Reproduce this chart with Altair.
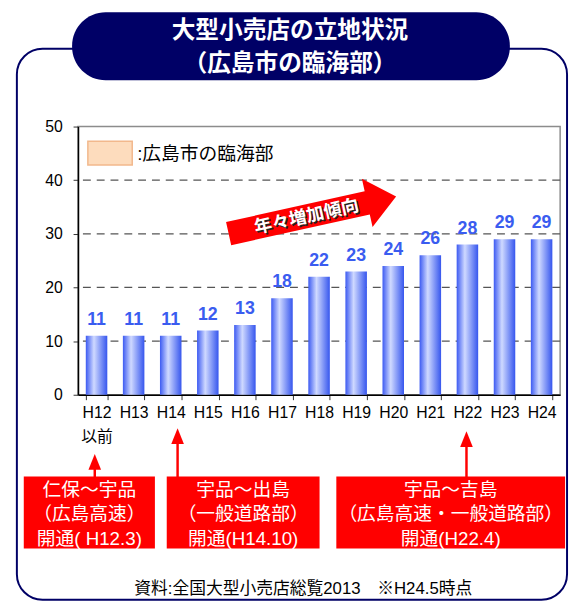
import altair as alt
import pandas as pd

# ---------------- data ----------------
years = ["H12", "H13", "H14", "H15", "H16", "H17", "H18", "H19", "H20", "H21", "H22", "H23", "H24"]
counts = [11, 11, 11, 12, 13, 18, 22, 23, 24, 26, 28, 29, 29]
y_ticks = [0, 10, 20, 30, 40, 50]
grid_vals = [10, 20, 30, 40]
title_lines = ["大型小売店の立地状況", "（広島市の臨海部）"]
legend_label = ":広島市の臨海部"
trend_label = "年々増加傾向"
note_lines = [
    ["仁保～宇品", "（広島高速）", "開通( H12.3)"],
    ["宇品～出島", "（一般道路部）", "開通(H14.10)"],
    ["宇品～吉島", "（広島高速・一般道路部）", "開通(H22.4)"],
]
source_text = "資料:全国大型小売店総覧2013　※H24.5時点"

# ---------------- styles ----------------
NAVY = "#000066"
RED = "#ff0000"
BLUE_TXT = "#3a5cf0"
FONT = "Liberation Sans, Noto Sans CJK JP"
CJK = "Noto Sans CJK JP"
W, H = 489, 272

df = pd.DataFrame({"year": years, "count": counts})
one = pd.DataFrame({"k": [0]})

xscale = alt.Scale(domain=years, paddingInner=0.42, paddingOuter=0.21)
yscale = alt.Scale(domain=[0, 50])


def box(x, x2, y, y2, **kw):
    return alt.Chart(one).mark_rect(**kw).encode(
        x=alt.value(x), x2=alt.value(x2), y=alt.value(y), y2=alt.value(y2)
    )


def txt(s, x, y, **kw):
    return alt.Chart(one).mark_text(**kw).encode(
        x=alt.value(x), y=alt.value(y), text=alt.value(s)
    )


layers = []

# outer frame
layers.append(box(-62, 496, -79, 480, fill="white", fillOpacity=0, stroke=NAVY,
                  strokeWidth=2, cornerRadius=26))
# title pill
layers.append(box(-6, 438, -116, -47, fill=NAVY, cornerRadius=34))
layers.append(txt(title_lines[0], 215, -97, font=CJK, fontSize=24, fontWeight="bold",
                  color="white", align="center", baseline="middle"))
layers.append(txt(title_lines[1], 215, -63, font=CJK, fontSize=24, fontWeight="bold",
                  color="white", align="center", baseline="middle"))

# legend
layers.append(box(10, 55, 15, 39, fill="#fddcbd", stroke="#f2b88c", strokeWidth=1.5))
layers.append(txt(legend_label, 60, 28, font=FONT, fontSize=19, color="black",
                  align="left", baseline="middle"))

# grid lines
grid = alt.Chart(pd.DataFrame({"v": grid_vals})).mark_rule(
    strokeDash=[8, 6], color="#555555", strokeWidth=1.3
).encode(y=alt.Y("v:Q", scale=yscale))
layers.append(grid)

# bars
grad = alt.LinearGradient(
    gradient="linear",
    stops=[
        alt.GradientStop(color="#3c5af2", offset=0),
        alt.GradientStop(color="#cfd9ff", offset=0.38),
        alt.GradientStop(color="#3656ee", offset=1),
    ],
    x1=0, x2=1, y1=0, y2=0,
)
bars = alt.Chart(df).mark_bar(color=grad).encode(
    x=alt.X(
        "year:N", sort=years, scale=xscale, title=None,
        axis=alt.Axis(
            labelAngle=0, tickBand="extent", grid=False, domainColor="black",
            domainWidth=1.5, tickColor="#333333", tickSize=5, labelPadding=5,
            labelFontSize=16, labelFont=FONT, labelColor="black",
            labelLineHeight=24,
            labelExpr="datum.label == 'H12' ? ['H12', '以前'] : datum.label",
        ),
    ),
    y=alt.Y(
        "count:Q", scale=yscale, title=None,
        axis=alt.Axis(
            values=y_ticks, grid=False, domainColor="black", domainWidth=1.5,
            tickColor="#333333", tickSize=5, labelPadding=11, labelFontSize=16,
            labelFont=FONT, labelColor="black",
        ),
    ),
)
layers.append(bars)

vals = alt.Chart(df).mark_text(
    font=FONT, fontSize=18, fontWeight="bold", color=BLUE_TXT, dy=-11,
    baseline="alphabetic", align="center",
).encode(x=alt.X("year:N", sort=years, scale=xscale),
         y=alt.Y("count:Q", scale=yscale), text=alt.Text("count:Q"))
layers.append(vals)

# trend arrow
arrow_path = "M -1 -0.138 L 0.655 -0.138 L 0.655 -0.287 L 1 0 L 0.655 0.287 L 0.655 0.138 L -1 0.138 Z"
layers.append(alt.Chart(one).mark_point(
    shape=arrow_path, filled=True, color=RED, opacity=1, size=30276, angle=347.5,
    strokeWidth=0,
).encode(x=alt.value(237.7), y=alt.value(89.75)))
layers.append(txt(trend_label, 233.5, 93.5, font=CJK, fontSize=18, fontWeight="bold",
                  color="#222222", angle=347.5, align="center", baseline="middle"))
layers.append(txt(trend_label, 232, 92, font=CJK, fontSize=18, fontWeight="bold",
                  color="white", angle=347.5, align="center", baseline="middle"))

# annotation boxes with arrows
box_x = [(-55, 78), (90, 245), (262, 494)]
arrow_x = [17, 101, 394]
arrow_tip = [332, 306, 309]
for (bx0, bx1), ax, tip, lines in zip(box_x, arrow_x, arrow_tip, note_lines):
    layers.append(alt.Chart(one).mark_rule(color=RED, strokeWidth=2.5).encode(
        x=alt.value(ax), y=alt.value(tip + 12), y2=alt.value(356)))
    layers.append(alt.Chart(one).mark_point(
        shape="M 0 -1 L 0.8 1 L -0.8 1 Z", filled=True, color=RED, opacity=1,
        size=256, strokeWidth=0,
    ).encode(x=alt.value(ax), y=alt.value(tip + 8)))
    layers.append(box(bx0, bx1, 355, 428, fill=RED))
    cx = (bx0 + bx1) / 2
    for i, ln in enumerate(lines):
        layers.append(txt(ln, cx, 369 + i * 24.5, font=FONT, fontSize=19, color="white",
                          align="center", baseline="middle"))

# source
layers.append(txt(source_text, 228.5, 469, font=FONT, fontSize=17, color="black",
                  align="center", baseline="middle"))

chart = alt.layer(*layers).properties(
    width=W, height=H,
    padding={"left": 71, "top": 116, "right": 10, "bottom": 209},
    autosize="none",
    background="white",
).configure_view(stroke="#8c8c8c", strokeWidth=1.5)

chart.save("out.html", embed_options={"renderer": "svg", "actions": False})
